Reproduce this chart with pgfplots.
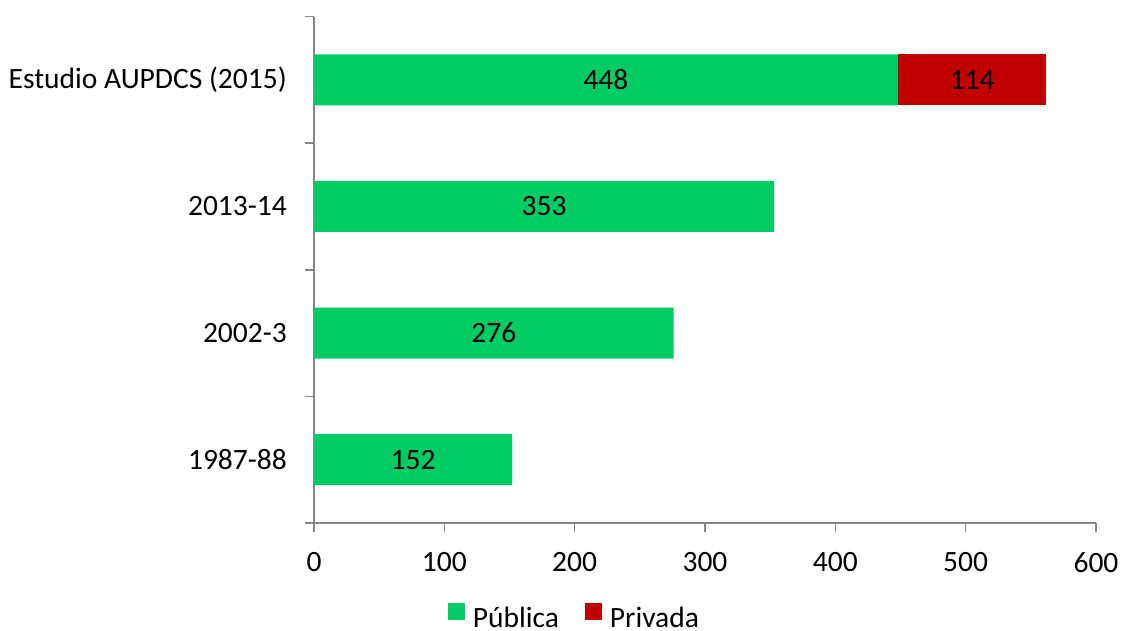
\documentclass[border=0pt]{standalone}
\usepackage{fontspec}
\setmainfont{Carlito}
\usepackage{pgfplots}
\pgfplotsset{compat=1.18}
\definecolor{pub}{RGB}{0,204,102}
\definecolor{priv}{RGB}{192,0,0}
\definecolor{axgray}{RGB}{134,134,134}
\begin{document}
\begin{tikzpicture}[font=\fontsize{29.5pt}{34pt}\selectfont]
\path[use as bounding box] (0,0) rectangle (1121pt,630pt);
\begin{axis}[
  at={(314pt,107pt)}, anchor=south west,
  scale only axis, width=782pt, height=506.5pt,
  xmin=0, xmax=600, ymin=-0.5, ymax=3.5,
  xbar stacked, bar width=51pt,
  axis x line*=bottom, axis y line*=left,
  axis line style={axgray, line width=1.6pt, -},
  tick align=outside, major tick length=9pt,
  xtick={0,100,...,600},
  x tick style={axgray, line width=1.6pt},
  ytick={0,1,2,3},
  yticklabels={1987-88,2002-3,2013-14,Estudio AUPDCS (2015)},
  y tick style={draw=none},
  extra y ticks={-0.5,0.5,1.5,2.5,3.5},
  extra y tick labels={},
  extra y tick style={y tick style={draw=axgray, line width=1.6pt}},
  /pgf/number format/assume math mode=true,
  yticklabel style={anchor=east, inner sep=0pt, xshift=-18pt},
  xticklabel style={anchor=north, inner sep=0pt, yshift=-20pt},
  legend style={draw=none, legend columns=-1, at={(0.333,-0.185)}, anchor=center,
    inner sep=0pt,
    /tikz/every odd column/.append style={column sep=6pt},
    /tikz/every even column/.append style={column sep=24pt},
    font=\fontsize{29.5pt}{34pt}\selectfont},
  legend image code/.code={\fill[#1] (0pt,-2pt) rectangle (17pt,15pt);},
]
\addplot[fill=pub, draw=none] coordinates {(152,0) (276,1) (353,2) (448,3)};
\addlegendentry{Pública}
\addplot[fill=priv, draw=none] coordinates {(0,0) (0,1) (0,2) (114,3)};
\addlegendentry{Privada}
\end{axis}
\begin{axis}[
  at={(314pt,107pt)}, anchor=south west,
  scale only axis, width=782pt, height=506.5pt,
  xmin=0, xmax=600, ymin=-0.5, ymax=3.5,
  hide axis,
]
\addplot[draw=none, mark=none, nodes near coords, point meta=explicit symbolic,
  every node near coord/.style={anchor=center, text=black, font=\fontsize{29.5pt}{34pt}\selectfont}]
  table[meta=lab] {
x y lab
76 0 152
138 1 276
176.5 2 353
224 3 448
505 3 114
};
\end{axis}
\end{tikzpicture}
\end{document}
